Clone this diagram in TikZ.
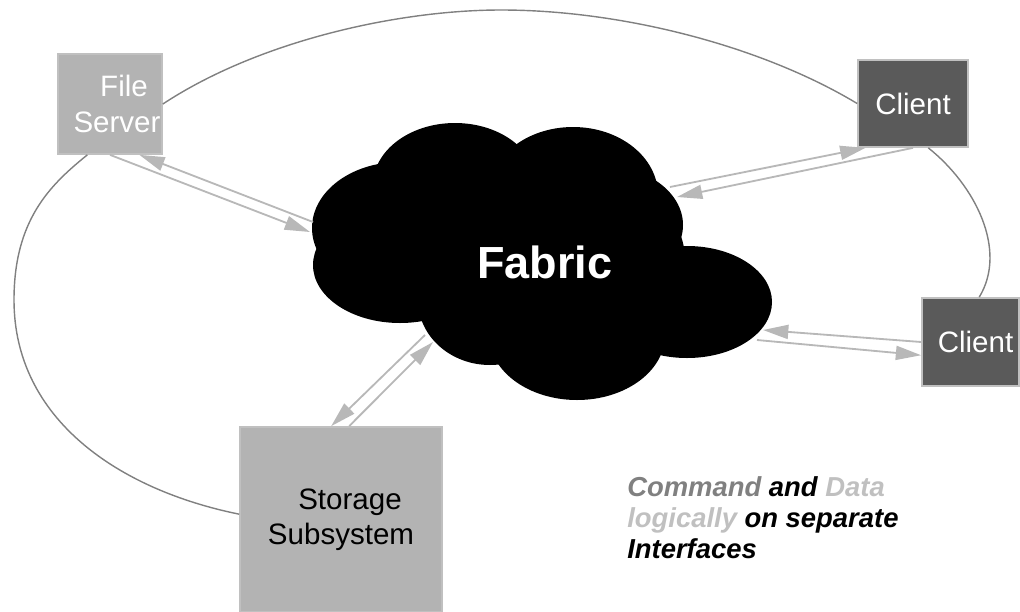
\documentclass[tikz,border=0pt]{standalone}
\usepackage{fontspec}
\setmainfont{Liberation Sans}
\usetikzlibrary{arrows.meta}

\definecolor{boxgray}{HTML}{B3B3B3}
\definecolor{clientgray}{HTML}{5A5A5A}
\definecolor{edgegray}{HTML}{C0C0C0}
\definecolor{arrowgray}{HTML}{B8B8B8}
\definecolor{loopgray}{HTML}{808080}

\begin{document}
\begin{tikzpicture}[x=0.025cm, y=-0.025cm,
    box/.style={draw=edgegray, line width=1.2pt, inner sep=0pt, align=center,
      font=\fontsize{21}{25}\selectfont},
    lightbox/.style={box, fill=boxgray},
    darkbox/.style={box, fill=clientgray, text=white},
    link/.style={draw=arrowgray, line width=1.3pt, -{Triangle[length=18pt, width=10pt]}},
    ring/.style={draw=loopgray, line width=1pt}]
    \useasboundingbox (0,0) rectangle (1020,612);

    % fabric cloud
    \fill[black] (455,185) ellipse [x radius=82, y radius=62];
    \fill[black] (573,195) ellipse [x radius=85, y radius=68];
    \fill[black] (600,225) ellipse [x radius=83, y radius=60];
    \fill[black] (687,302) ellipse [x radius=85, y radius=56];
    \fill[black] (577,335) ellipse [x radius=88, y radius=65];
    \fill[black] (490,300) ellipse [x radius=72, y radius=65];
    \fill[black] (400,265) ellipse [x radius=87, y radius=58];
    \fill[black] (400,228) ellipse [x radius=88, y radius=66];
    \fill[black] (545,260) ellipse [x radius=140, y radius=100];
    \node[text=white, font=\bfseries\fontsize{32}{38}\selectfont] (fabric) at (545,262) {Fabric};

    % boxes
    \node[lightbox, text=white, minimum width=2.6cm, minimum height=2.5cm] (fs) at (110,104)
      {\hspace*{0.7cm}File\\Server\hspace*{-0.35cm}};
    \node[darkbox, minimum width=2.75cm, minimum height=2.175cm] (c1) at (913,103.5) {Client};
    \node[darkbox, minimum width=2.425cm, minimum height=2.2cm] (c2) at (970.5,342)
      {\hspace*{0.25cm}Client};
    \node[lightbox, minimum width=5.05cm, minimum height=4.625cm] (ss) at (341,519.5)
      {\hspace*{0.45cm}Storage\\Subsystem};

    % outer ring
    \coordinate (top) at (501,10);
    \coordinate (left) at (14,300);
    \draw[ring] (fs.east) .. controls (260,40) and (400,10) .. (top)
      .. controls (620,10) and (760,45) .. (c1.west);
    \draw[ring] (c1.289) .. controls (975,185) and (1008,250) .. (c2.79);
    \draw[ring] (ss.177) .. controls (120,490) and (14,420) .. (left)
      .. controls (14,220) and (50,185) .. (fs.246);

    % links into the fabric
    %% file server
    \coordinate (w1) at (310,232);
    \coordinate (w2) at (313,222);
    \draw[link] (fs.south) -- (w1);
    \draw[link] (w2) -- (fs.300);
    %% upper client
    \coordinate (n1) at (670,187);
    \coordinate (n2) at (677,197);
    \draw[link] (n1) -- (c1.223);
    \draw[link] (c1.south) -- (n2);
    %% lower client
    \coordinate (e1) at (763,330);
    \coordinate (e2) at (757,340);
    \draw[link] (c2.west) -- (e1);
    \draw[link] (e2) -- (c2.195);
    %% storage
    \coordinate (s1) at (425,335);
    \coordinate (s2) at (433,342);
    \draw[link] (s1) -- (ss.96);
    \draw[link] (ss.85) -- (s2);

    % note
    \node[anchor=north west, inner sep=0pt, align=left,
      font=\bfseries\itshape\fontsize{19.5}{22}\selectfont] (note) at (627,476)
      {\textcolor{loopgray}{Command} and \textcolor{edgegray}{Data}\\
       \textcolor{edgegray}{logically} on separate\\
       Interfaces};
\end{tikzpicture}
\end{document}
